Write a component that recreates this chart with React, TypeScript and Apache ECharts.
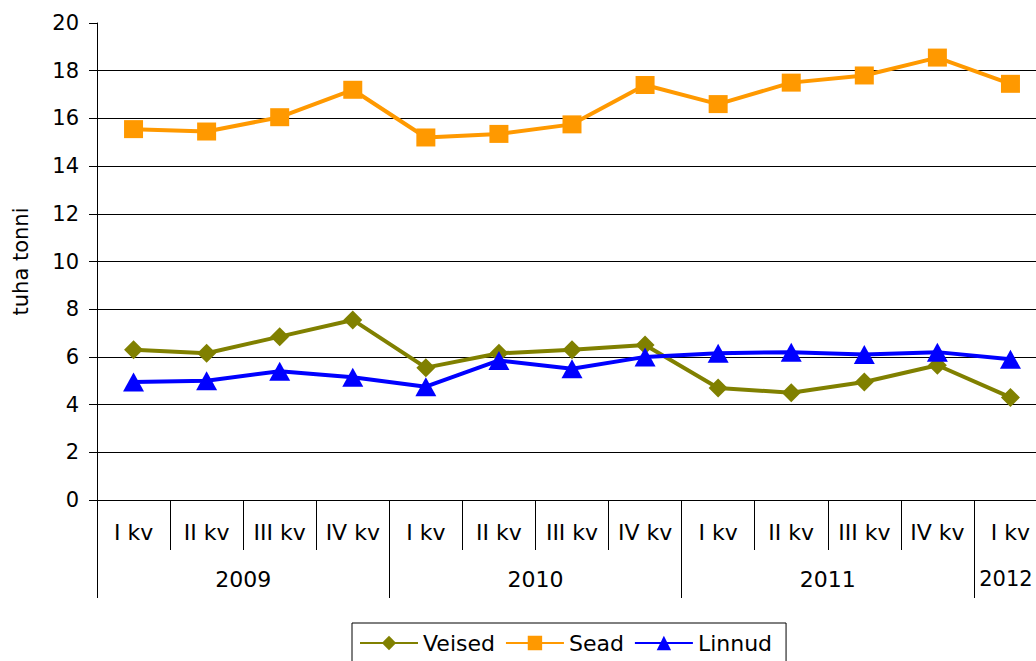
import React, { useEffect, useRef } from "react";
import * as echarts from "echarts";

const quarterLabels = ["I kv", "II kv", "III kv", "IV kv", "I kv", "II kv", "III kv", "IV kv", "I kv", "II kv", "III kv", "IV kv", "I kv"];
const yearLabels = ["2009", "2010", "2011", "2012"];
const yearSpans = [4, 4, 4, 1];
const yTicks = { min: 0, max: 20, interval: 2 };

const veised = [6.3, 6.15, 6.85, 7.55, 5.55, 6.15, 6.3, 6.5, 4.7, 4.5, 4.95, 5.65, 4.3];
const sead = [15.55, 15.45, 16.05, 17.2, 15.2, 15.35, 15.75, 17.4, 16.6, 17.5, 17.8, 18.55, 17.45];
const linnud = [4.95, 5.0, 5.4, 5.15, 4.75, 5.85, 5.5, 6.0, 6.15, 6.2, 6.1, 6.2, 5.9];

const FONT = "DejaVu Sans";

export default function App() {
  const ref = useRef<HTMLDivElement>(null);
  useEffect(() => {
    document.body.style.margin = "0";
    if (!ref.current) return;
    const chart = echarts.init(ref.current, undefined, { renderer: "svg" });

    const yearCenters: { v: number; label: string }[] = [];
    let start = 0;
    yearSpans.forEach((s, i) => {
      yearCenters.push({ v: start + s / 2, label: yearLabels[i] });
      start += s;
    });
    const total = start;
    const lastYear = yearLabels[yearLabels.length - 1];

    chart.setOption({
      animation: false,
      backgroundColor: "#fff",
      textStyle: { fontFamily: FONT },
      grid: { left: 97, top: 23, width: 950, height: 477, outerBoundsMode: "none", containLabel: false },
      xAxis: [
        {
          type: "category",
          position: "bottom",
          offset: 0,
          data: quarterLabels,
          boundaryGap: true,
          axisLine: { show: true, lineStyle: { color: "#000", width: 1 } },
          axisTick: { show: true, length: 50, interval: 0, lineStyle: { color: "#000" } },
          axisLabel: { interval: 0, fontSize: 22, color: "#000", margin: 21, fontFamily: FONT },
          splitLine: { show: false },
        },
        {
          type: "value",
          position: "bottom",
          offset: 0,
          min: 0,
          max: total,
          interval: 4,
          axisLine: { show: false },
          axisTick: { show: true, length: 98, lineStyle: { color: "#000" } },
          axisLabel: { show: false },
          splitLine: { show: false },
        },
        {
          type: "value",
          position: "bottom",
          offset: 0,
          min: 0,
          max: total,
          interval: 0.5,
          axisLine: { show: false },
          axisTick: { show: false },
          splitLine: { show: false },
          axisLabel: {
            show: true,
            fontSize: 22,
            color: "#000",
            margin: 68,
            fontFamily: FONT,
            rich: {
              last: { fontSize: 21, color: "#000", fontFamily: FONT, padding: [0, 9, 0, 0] },
            },
            formatter: (v: number) => {
              const f = yearCenters.find((c) => Math.abs(c.v - v) < 1e-6);
              if (!f) return "";
              return f.label === lastYear ? `{last|${f.label}}` : f.label;
            },
          },
        },
      ],
      yAxis: {
        type: "value",
        min: yTicks.min,
        max: yTicks.max,
        interval: yTicks.interval,
        name: "tuha tonni",
        nameLocation: "middle",
        nameGap: 66,
        nameTextStyle: { fontSize: 21, color: "#000", fontFamily: FONT },
        axisLine: { show: true, lineStyle: { color: "#000", width: 1 } },
        axisTick: { show: true, length: 8, lineStyle: { color: "#000" } },
        axisLabel: { fontSize: 21, color: "#000", margin: 18, fontFamily: FONT },
        splitLine: { show: true, showMaxLine: false, lineStyle: { color: "#000", width: 1 } },
      },
      legend: {
        left: 352,
        top: 623,
        orient: "horizontal",
        borderColor: "#000",
        borderWidth: 1,
        padding: [9, 14, 30, 7],
        itemWidth: 58,
        itemHeight: 18,
        itemGap: 10,
        textStyle: { fontSize: 22, color: "#000", fontFamily: FONT },
        data: [
          { name: "Veised", textStyle: { width: 77 } },
          { name: "Sead", textStyle: { width: 58 } },
          { name: "Linnud", textStyle: { width: 76 } },
        ],
      },
      series: [
        {
          name: "Veised",
          type: "line",
          data: veised,
          xAxisIndex: 0,
          color: "#808000",
          symbol: "diamond",
          symbolSize: 19,
          lineStyle: { width: 4, color: "#808000" },
          itemStyle: { color: "#808000" },
        },
        {
          name: "Sead",
          type: "line",
          data: sead,
          xAxisIndex: 0,
          color: "#ff9900",
          symbol: "rect",
          symbolSize: [19, 18],
          lineStyle: { width: 4, color: "#ff9900" },
          itemStyle: { color: "#ff9900" },
        },
        {
          name: "Linnud",
          type: "line",
          data: linnud,
          xAxisIndex: 0,
          color: "#0000ff",
          symbol: "triangle",
          symbolSize: [21, 19],
          lineStyle: { width: 4, color: "#0000ff" },
          itemStyle: { color: "#0000ff" },
        },
      ],
    });
    return () => chart.dispose();
  }, []);
  return <div ref={ref} style={{ width: 1036, height: 661 }} />;
}
